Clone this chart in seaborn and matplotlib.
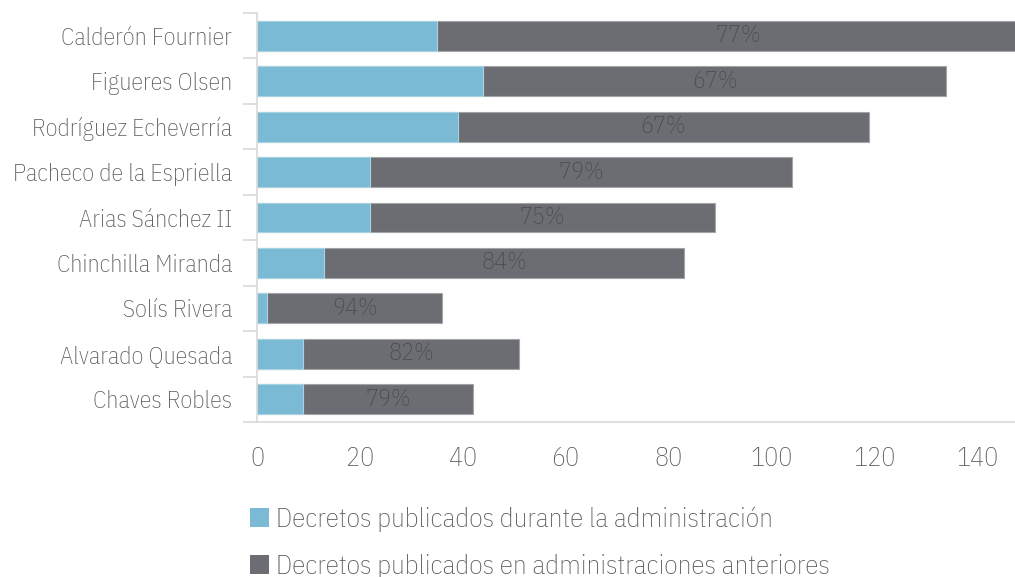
import matplotlib
matplotlib.use("Agg")
import matplotlib.pyplot as plt
from matplotlib import font_manager
from matplotlib.patches import Patch
import seaborn as sns
import pandas as pd

categories = ["Calderón Fournier", "Figueres Olsen", "Rodríguez Echeverría",
              "Pacheco de la Espriella", "Arias Sánchez II", "Chinchilla Miranda",
              "Solís Rivera", "Alvarado Quesada", "Chaves Robles"]
during = [35, 44, 39, 22, 22, 13, 2, 9, 9]
prior = [117, 90, 80, 82, 67, 70, 34, 42, 33]
pct_labels = ["77%", "67%", "67%", "79%", "75%", "84%", "94%", "82%", "79%"]
series_names = ["Decretos publicados durante la administración",
                "Decretos publicados en administraciones anteriores"]
xticks = [0, 20, 40, 60, 80, 100, 120, 140]

sns.set_theme(style="white")
avail = {f.name for f in font_manager.fontManager.ttflist}
family = "DejaVu Sans"
for cand in ["IBM Plex Sans Condensed", "Roboto Condensed", "Liberation Sans Narrow",
             "Open Sans Condensed", "Roboto", "Lato"]:
    if cand in avail:
        family = cand
        break
plt.rcParams["font.family"] = [family, "DejaVu Sans"]

BLUE = "#7bbad4"
DARK = "#6c6d72"
TXT = "#595959"
GRID = "#d9d9d9"

df = pd.DataFrame({"cat": categories, "during": during, "prior": prior})
df["total"] = df["during"] + df["prior"]

fig = plt.figure(figsize=(10.15, 5.77), dpi=100)
ax = fig.add_axes([257/1015, 1 - 422/577, 1 - 257/1015, (422 - 13)/577])

sns.barplot(data=df, y="cat", x="total", color=DARK, orient="h", ax=ax,
            width=0.66, edgecolor="#a3a4a8", linewidth=0.8, saturation=1)
sns.barplot(data=df, y="cat", x="during", color=BLUE, orient="h", ax=ax,
            width=0.66, edgecolor="#a9d3e4", linewidth=0.8, saturation=1)

for i, (d, p, lab) in enumerate(zip(df["during"], df["prior"], pct_labels)):
    ax.text(d + p / 2, i, lab, ha="center", va="center", fontsize=17.4,
            color="#4a4a4e", fontweight="light")

ax.set_xlim(0, 147.4)
ax.set_ylim(8.5, -0.5)
ax.set_xticks(xticks)
ax.set_xticklabels([str(t) for t in xticks], fontsize=18.8, color=TXT, fontweight="light")
ax.set_yticks(range(len(categories)))
ax.set_yticklabels(categories, fontsize=17.3, color=TXT, fontweight="light")
ax.tick_params(axis="y", length=0, pad=18)
ax.tick_params(axis="x", length=8, width=1.2, color=GRID, pad=9)
# boundary ticks on y-axis
ax.set_yticks([i - 0.5 for i in range(len(categories) + 1)], minor=True)
ax.tick_params(axis="y", which="minor", length=10, width=1.2, color=GRID, left=True)
ax.set_xlabel("")
ax.set_ylabel("")
for s in ["top", "right"]:
    ax.spines[s].set_visible(False)
for s in ["left", "bottom"]:
    ax.spines[s].set_color(GRID)
    ax.spines[s].set_linewidth(1.2)

handles = [Patch(facecolor=BLUE, edgecolor="none"), Patch(facecolor=DARK, edgecolor="none")]
fig.legend(handles, series_names, loc="upper left", bbox_to_anchor=(250/1015, 1 - 507/577),
           frameon=False, labelcolor=TXT, handlelength=0.7, handleheight=0.7,
           handletextpad=0.25, labelspacing=0.81, borderpad=0, borderaxespad=0,
           prop={"weight": "light", "size": 19.5})

fig.savefig("out.png", dpi=100)
